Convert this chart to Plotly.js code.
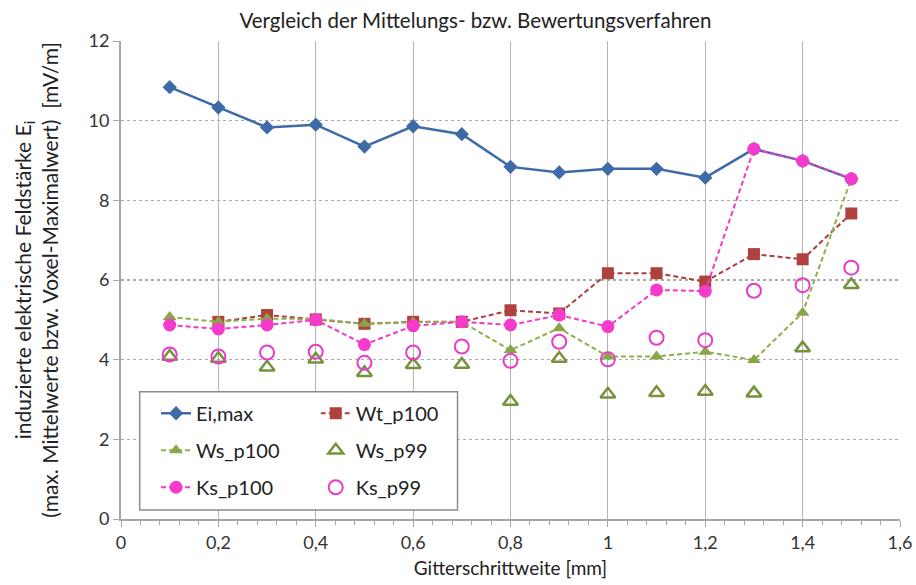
<!DOCTYPE html>
<html>
<head>
<meta charset="utf-8">
<script src="https://cdn.plot.ly/plotly-3.0.1.min.js"></script>
<style>html,body{margin:0;padding:0;background:#fff;}#chart{width:916px;height:585px;}</style>
</head>
<body>
<div id="chart"></div>
<script>
const gridStep = [0.1, 0.2, 0.3, 0.4, 0.5, 0.6, 0.7, 0.8, 0.9, 1.0, 1.1, 1.2, 1.3, 1.4, 1.5];
const eiMax  = [10.84, 10.33, 9.83, 9.90, 9.35, 9.86, 9.66, 8.84, 8.70, 8.79, 8.79, 8.57, 9.29, 8.99, 8.54];
const wtP100 = [null, 4.95, 5.12, 5.01, 4.90, 4.95, 4.95, 5.24, 5.16, 6.17, 6.17, 5.96, 6.65, 6.52, 7.67];
const wsP100 = [5.07, 4.95, 5.03, 5.02, 4.90, 4.94, 4.95, 4.24, 4.79, 4.08, 4.08, 4.20, 3.99, 5.18, 8.54];
const wsP99  = [4.08, 4.03, 3.81, 4.01, 3.67, 3.87, 3.88, 2.95, 4.03, 3.13, 3.17, 3.20, 3.16, 4.29, 5.88];
const ksP100 = [4.87, 4.77, 4.87, 5.00, 4.38, 4.85, 4.95, 4.87, 5.12, 4.83, 5.75, 5.72, 9.29, 8.99, 8.54];
const ksP99  = [4.13, 4.08, 4.18, 4.20, 3.92, 4.18, 4.33, 3.97, 4.45, 4.01, 4.55, 4.49, 5.73, 5.87, 6.31];
const seriesNames = ['Ei,max', 'Wt_p100', 'Ws_p100', 'Ws_p99', 'Ks_p100', 'Ks_p99'];

const FONT = 'Lato, "Open Sans", sans-serif';
const dash = '5px,3px';

const traces = [
  {x: gridStep, y: eiMax, name: seriesNames[0], mode: 'lines+markers', legend: 'legend', legendgroup: 'a',
   line: {color: '#3E6BA8', width: 2.5}, marker: {symbol: 'diamond', size: 11, color: '#3E6BA8'}},
  {x: gridStep, y: wtP100, name: seriesNames[1], mode: 'lines+markers', legend: 'legend2', legendgroup: 'b',
   line: {color: '#A8403C', width: 2, dash: dash}, marker: {symbol: 'square', size: 12, color: '#B0423E'}},
  {x: gridStep, y: wsP100, name: seriesNames[2], mode: 'lines+markers', legend: 'legend', legendgroup: 'c',
   line: {color: '#8FAE4E', width: 2, dash: dash}, marker: {symbol: 'triangle-up', size: 12, color: '#88A646'}},
  {x: gridStep, y: wsP99, name: seriesNames[3], mode: 'markers', legend: 'legend2', legendgroup: 'd',
   marker: {symbol: 'triangle-up-open', size: 13, color: '#76923C', line: {width: 2.5, color: '#76923C'}}},
  {x: gridStep, y: ksP100, name: seriesNames[4], mode: 'lines+markers', legend: 'legend', legendgroup: 'e',
   line: {color: '#F03AC8', width: 2, dash: dash}, marker: {symbol: 'circle', size: 13, color: '#F53BCB'}},
  {x: gridStep, y: ksP99, name: seriesNames[5], mode: 'markers', legend: 'legend2', legendgroup: 'f',
   marker: {symbol: 'circle-open', size: 14, color: '#E83CC8', line: {width: 2, color: '#E83CC8'}}}
];

const legendCommon = {
  orientation: 'v', traceorder: 'grouped', tracegroupgap: 8,
  bgcolor: 'rgba(0,0,0,0)', borderwidth: 0,
  font: {family: FONT, size: 20, color: '#222'},
  xanchor: 'left', yanchor: 'top', itemwidth: 30
};

const layout = {
  width: 916, height: 585,
  paper_bgcolor: '#fff', plot_bgcolor: '#fff',
  margin: {l: 121, r: 16, t: 41, b: 66},
  separators: ',.',
  font: {family: FONT, color: '#333'},
  title: {text: 'Vergleich der Mittelungs- bzw. Bewertungsverfahren',
          font: {family: FONT, size: 20.5, color: '#222'},
          xref: 'container', x: 0.519, xanchor: 'center', yref: 'container', y: 0.965, yanchor: 'middle'},
  xaxis: {
    range: [0, 1.6], dtick: 0.2, tick0: 0,
    showgrid: true, gridcolor: '#B4B4B4', gridwidth: 1,
    zeroline: false, showline: true, linecolor: '#A6A6A6', linewidth: 2,
    ticks: 'outside', ticklen: 6, tickcolor: '#A6A6A6',
    minor: {dtick: 0.04, ticks: 'outside', ticklen: 4, tickcolor: '#A6A6A6', showgrid: false},
    tickfont: {family: FONT, size: 18, color: '#333'},
    title: {text: 'Gitterschrittweite [mm]', font: {family: FONT, size: 19, color: '#222'}, standoff: 10}
  },
  yaxis: {
    range: [0, 12], dtick: 2, tick0: 0,
    showgrid: true, gridcolor: '#ABABAB', gridwidth: 1.5, griddash: 'dot',
    zeroline: false, showline: true, linecolor: '#A6A6A6', linewidth: 2,
    ticks: 'outside', ticklen: 6, tickcolor: '#A6A6A6',
    tickfont: {family: FONT, size: 18, color: '#333'},
    title: {text: 'induzierte elektrische Feldstärke E<sub>i</sub>' +
                  '<br>(max. Mittelwerte bzw. Voxel-Maximalwert)  [mV/m]',
            font: {family: FONT, size: 21, color: '#222'}, standoff: 24}
  },
  legend: Object.assign({}, legendCommon, {x: 0.045, y: 0.262}),
  legend2: Object.assign({}, legendCommon, {x: 0.25, y: 0.262}),
  shapes: [{type: 'rect', xref: 'paper', yref: 'paper', x0: 0.024, x1: 0.432, y0: 0.019, y1: 0.266,
            line: {color: '#8C8C8C', width: 1.5}, fillcolor: '#FFFFFF', layer: 'above'}],
  showlegend: true
};

Plotly.newPlot('chart', traces, layout, {displayModeBar: false, staticPlot: true});
</script>
</body>
</html>
